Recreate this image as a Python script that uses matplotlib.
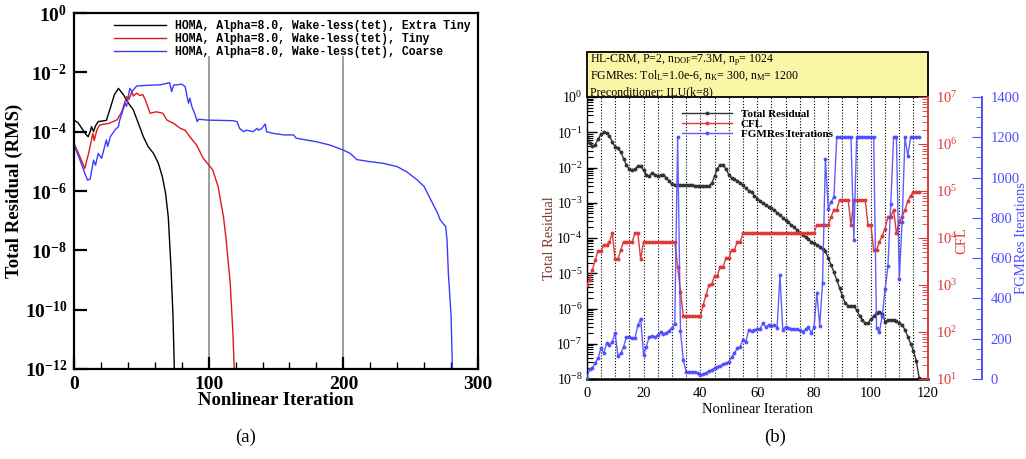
import numpy as np
import matplotlib
matplotlib.use('Agg')
import matplotlib.pyplot as plt
from matplotlib.patches import Rectangle
from matplotlib.ticker import MultipleLocator, NullLocator, LogLocator, NullFormatter

plt.rcParams['mathtext.fontset'] = 'custom'
plt.rcParams['mathtext.rm'] = 'Liberation Serif'
plt.rcParams['mathtext.it'] = 'Liberation Serif:italic'
plt.rcParams['mathtext.bf'] = 'Liberation Serif:bold'
plt.rcParams['font.family'] = ['Liberation Serif', 'DejaVu Serif']

# ---------------- panel (a) data ----------------
a_labels = ['HOMA, Alpha=8.0, Wake-less(tet), Extra Tiny',
            'HOMA, Alpha=8.0, Wake-less(tet), Tiny',
            'HOMA, Alpha=8.0, Wake-less(tet), Coarse']
a_xtiny_it = [0, 3, 6, 9, 10.5, 12, 13, 14.5, 16, 18, 21, 24, 27, 30, 33, 36.6, 40.4, 44, 47.8, 51.5,
              55, 59, 62.6, 65.6, 68, 70, 72, 73.5, 74.5]
a_xtiny_log = [-3.61, -3.7, -3.9, -4.1, -4.17, -4.0, -3.83, -4.0, -3.8, -3.66, -3.64, -3.62, -3.2, -2.75,
               -2.54, -2.75, -3.04, -3.26, -3.72, -4.17, -4.5, -4.73, -5.06, -5.52, -6.08, -6.87, -8.55,
               -10.2, -12.0]
a_tiny_it = [0, 4, 8, 11, 14, 15, 17, 19, 22, 26, 29, 32, 35.5, 39, 41, 43, 44, 46.5, 49, 51, 53, 56.5,
             61, 66, 69, 74, 79, 82.5, 86, 91, 96, 100, 103, 107, 111, 113, 116, 118, 119]
a_tiny_log = [-4.39, -4.8, -5.24, -4.7, -4.06, -4.3, -3.94, -3.78, -3.75, -3.72, -3.66, -3.6, -3.33,
              -2.82, -2.9, -2.65, -2.8, -2.7, -2.78, -2.75, -2.93, -3.38, -3.33, -3.38, -3.61, -3.72,
              -3.89, -3.95, -4.17, -4.45, -4.9, -5.12, -5.29, -5.85, -6.87, -7.65, -9.1, -10.8, -12.0]
a_coarse_it = [0, 4, 8, 10, 12, 14.5, 16, 18, 20.5, 24, 25, 27, 30.5, 33, 34, 38, 39, 41.5, 43, 46.5,
               54, 64, 71, 72.5, 74, 80, 82.5, 85, 86, 87.5, 90, 91.5, 92.5, 99, 118, 121, 123, 126,
               128, 133, 136, 137, 139.5, 142, 143, 148, 156, 163, 165, 180, 190, 200, 205, 210, 218,
               230, 240, 247, 255, 260, 265, 270, 272, 276, 277, 278, 280, 281]
a_coarse_log = [-4.45, -4.9, -5.4, -5.63, -5.6, -4.96, -5.13, -4.73, -4.9, -4.28, -4.5, -4.17, -3.94,
                -3.83, -3.6, -3.04, -3.15, -2.54, -2.65, -2.46, -2.44, -2.42, -2.35, -2.65, -2.43, -2.4,
                -2.48, -3.04, -2.87, -3.15, -3.44, -3.66, -3.58, -3.61, -3.63, -3.66, -3.89, -4.0,
                -3.95, -4.0, -3.89, -3.95, -3.89, -3.74, -4.0, -4.06, -4.11, -4.11, -4.22, -4.34,
                -4.45, -4.62, -4.73, -4.94, -5.0, -5.07, -5.18, -5.35, -5.63, -5.85, -6.3, -6.75,
                -6.98, -7.2, -7.65, -8.78, -10.2, -12.0]
a_colors = ['#000000', '#e01818', '#3b3bff']
a_xticks = [0, 100, 200, 300]
a_grid_x = [100, 200]
a_yexp = [-12, -10, -8, -6, -4, -2, 0]

# ---------------- panel (b) data ----------------
b_iter = list(range(118))
b_res_log = [-1.13, -1.3, -1.4, -1.35, -1.2, -1.06, -0.99, -1.03, -1.1, -1.27,
             -1.42, -1.46, -1.56, -1.75, -1.93, -2.05, -2.06, -2.05, -1.96, -1.97,
             -2.08, -2.2, -2.25, -2.15, -2.2, -2.25, -2.22, -2.2, -2.3, -2.38,
             -2.47, -2.49, -2.49, -2.5, -2.5, -2.5, -2.51, -2.5, -2.52, -2.52,
             -2.53, -2.53, -2.53, -2.52, -2.45, -2.25, -2.04, -1.92, -1.93, -2.05,
             -2.2, -2.3, -2.34, -2.38, -2.44, -2.5, -2.58, -2.66, -2.7, -2.8,
             -2.88, -2.95, -3.02, -3.07, -3.11, -3.16, -3.21, -3.28, -3.35, -3.42,
             -3.49, -3.56, -3.63, -3.7, -3.77, -3.85, -3.92, -3.98, -4.04, -4.1,
             -4.15, -4.2, -4.25, -4.32, -4.38, -4.57, -4.77, -4.97, -5.19, -5.42,
             -5.65, -5.85, -5.92, -5.92, -5.93, -6.04, -6.2, -6.33, -6.42, -6.41,
             -6.3, -6.22, -6.12, -6.09, -6.15, -6.37, -6.33, -6.32, -6.32, -6.35,
             -6.42, -6.47, -6.6, -6.8, -7.0, -7.2, -7.5, -7.97]
b_cfl_log = [3.0, 3.11, 3.32, 3.53, 3.73, 3.73, 3.85, 3.85, 3.92, 4.1,
             3.55, 3.55, 3.75, 3.92, 3.92, 3.92, 3.92, 4.1, 4.1, 3.55,
             3.92, 3.92, 3.92, 3.92, 3.92, 3.92, 3.92, 3.92, 3.92, 3.92,
             3.92, 3.92, 3.39, 2.86, 2.33, 2.33, 2.33, 2.33, 2.33, 2.33,
             2.33, 2.58, 2.79, 3.0, 3.02, 3.2, 3.2, 3.39, 3.39, 3.57,
             3.57, 3.75, 3.75, 3.92, 3.92, 4.1, 4.1, 4.1, 4.1, 4.1,
             4.1, 4.1, 4.1, 4.1, 4.1, 4.1, 4.1, 4.1, 4.1, 4.1,
             4.1, 4.1, 4.1, 4.1, 4.1, 4.1, 4.1, 4.1, 4.1, 4.1,
             4.1, 4.28, 4.28, 4.28, 4.28, 4.28, 4.45, 4.6, 4.6, 4.81,
             4.81, 4.81, 4.81, 4.28, 4.81, 4.81, 4.81, 4.81, 4.81, 4.28,
             4.28, 3.74, 3.74, 3.92, 4.05, 4.2, 4.45, 4.45, 4.6, 4.1,
             4.35, 4.45, 4.6, 4.78, 4.9, 4.98, 4.98, 4.98]
b_fgmres = [3, 48, 55, 79, 103, 153, 128, 177, 169, 185,
            230, 112, 128, 161, 210, 210, 202, 202, 267, 300,
            120, 161, 210, 212, 208, 218, 232, 225, 228, 240,
            255, 274, 1200, 236, 93, 36, 35, 34, 33, 28,
            20, 25, 30, 40, 44, 56, 62, 66, 72, 77,
            85, 110, 128, 153, 161, 194, 185, 243, 240, 243,
            246, 250, 276, 259, 267, 262, 267, 255, 514, 243,
            259, 255, 250, 250, 246, 243, 235, 246, 259, 230,
            257, 429, 265, 478, 1092, 846, 879, 903, 1200, 1200,
            1200, 1200, 1200, 1200, 690, 1200, 1200, 1200, 1200, 1200,
            1200, 1200, 255, 232, 314, 445, 560, 870, 1200, 1200,
            494, 780, 1200, 1108, 1200, 1200, 1200, 1200]
b_labels = ['Total Residual', 'CFL', 'FGMRes Iterations']
b_colors = ['#333333', '#dd3a3a', '#4d4dff']
b_xticks = [0, 20, 40, 60, 80, 100, 120]
b_res_exp = [-8, -7, -6, -5, -4, -3, -2, -1, 0]
b_cfl_exp = [1, 2, 3, 4, 5, 6, 7]
b_fg_ticks = [0, 200, 400, 600, 800, 1000, 1200, 1400]
b_box_lines = [r'HL-CRM, P=2, n$_{\mathrm{DOF}}$=7.3M, n$_{\mathrm{p}}$= 1024',
               r'FGMRes: Tol$_{\mathrm{L}}$=1.0e-6, n$_{\mathrm{K}}$= 300, n$_{\mathrm{M}}$= 1200',
               r'Preconditioner: ILU(k=8)']

W, H = 1026, 459
fig = plt.figure(figsize=(W / 100, H / 100), dpi=100)


def frac(x0, y0, x1, y1):
    return [x0 / W, 1 - y1 / H, (x1 - x0) / W, (y1 - y0) / H]


# ================= panel (a) =================
axA = fig.add_axes(frac(74, 13, 478, 369))
axA.set_xlim(0, 300)
axA.set_yscale('log')
axA.set_ylim(1e-12, 1)
for xg in a_grid_x:
    axA.axvline(xg, ymax=(369 - 57) / 356, color='#8c8c8c', lw=1.2, zorder=0)
series_a = [(a_xtiny_it, a_xtiny_log), (a_tiny_it, a_tiny_log), (a_coarse_it, a_coarse_log)]
for (xs, ls), c, lab in zip(series_a, a_colors, a_labels):
    axA.plot(xs, 10.0 ** np.array(ls), color=c, lw=1.0, label=lab)
axA.set_xticks(a_xticks)
axA.xaxis.set_minor_locator(MultipleLocator(20))
axA.set_yticks([10.0 ** e for e in a_yexp],
               labels=[r'$\mathbf{10^{%d}}$' % e for e in a_yexp])
axA.yaxis.set_minor_locator(NullLocator())
axA.tick_params(which='both', direction='in', top=False, right=False)
axA.tick_params(which='major', length=9, width=1.6, labelsize=14, pad=5)
axA.tick_params(axis='x', which='minor', length=5, width=1.0)
for lab in axA.get_xticklabels():
    lab.set_fontweight('bold')
for sp in axA.spines.values():
    sp.set_linewidth(1.6)
axA.set_xlabel('Nonlinear Iteration', fontsize=13.5, fontweight='bold')
axA.xaxis.set_label_coords(0.5, -0.065)
axA.set_ylabel('Total Residual (RMS)', fontsize=13.5, fontweight='bold')
axA.yaxis.set_label_coords(-0.125, 0.5)
legA = axA.legend(loc='upper left', bbox_to_anchor=(0.099, 0.979), frameon=False,
                  prop={'family': 'Liberation Mono', 'weight': 'bold', 'size': 8.3},
                  handlelength=4.5, handletextpad=0.78, labelspacing=0.08,
                  borderaxespad=0, borderpad=0)

# ================= panel (b) =================
axB = fig.add_axes(frac(586.7, 97, 927.7, 379))
axB.set_xlim(0, 120)
axB.set_yscale('log')
axB.set_ylim(1e-8, 1)
axB.set_xticks(b_xticks)
axB.xaxis.set_minor_locator(MultipleLocator(5))
axB.grid(True, axis='x', which='both', color='black', lw=0.8, ls=(0, (1, 1.6)))
axB.set_yticks([10.0 ** e for e in b_res_exp],
               labels=[r'$10^{%d}$' % e for e in b_res_exp])
axB.yaxis.set_minor_locator(LogLocator(base=10, subs=np.arange(2, 10)))
axB.yaxis.set_minor_formatter(NullFormatter())
axB.tick_params(which='both', direction='in', top=False, right=False, labelsize=10)
axB.tick_params(axis='y', which='major', length=7, width=1.0, pad=3)
axB.tick_params(axis='y', which='minor', length=4, width=0.8)
axB.tick_params(axis='x', which='major', length=0, pad=6, labelsize=10.5)
axB.tick_params(axis='x', which='minor', length=0)
axB.spines['right'].set_visible(False)
axB.spines['bottom'].set_linewidth(1.8)
axB.spines['left'].set_linewidth(1.0)
axB.spines['top'].set_visible(False)
axB.set_xlabel('Nonlinear Iteration', fontsize=10.5)
axB.xaxis.set_label_coords(0.5, -0.085)
axB.set_ylabel('Total Residual', fontsize=10.5, color='#7e3a2e')
axB.yaxis.set_label_coords(-0.09, 0.5)

axR = axB.twinx()
axR.set_yscale('log')
axR.set_ylim(10, 1e7)
axR.set_yticks([10.0 ** e for e in b_cfl_exp],
               labels=[r'$10^{%d}$' % e for e in b_cfl_exp])
axR.yaxis.set_minor_locator(LogLocator(base=10, subs=np.arange(2, 10)))
axR.yaxis.set_minor_formatter(NullFormatter())
axR.tick_params(axis='y', which='both', direction='in', colors=b_colors[1], labelsize=10.5)
axR.tick_params(axis='y', which='major', length=7, pad=6)
axR.tick_params(axis='y', which='minor', length=4)
for k in ['left', 'top', 'bottom']:
    axR.spines[k].set_visible(False)
axR.spines['right'].set_color(b_colors[1])
axR.spines['right'].set_linewidth(1.4)
axR.set_ylabel('CFL', fontsize=10.5, color=b_colors[1])
axR.yaxis.set_label_coords(1.082, 0.49)

axF = axB.twinx()
axF.set_ylim(0, 1400)
axF.set_yticks(b_fg_ticks)
axF.yaxis.set_minor_locator(MultipleLocator(50))
axF.spines['right'].set_position(('axes', 1.159))
for k in ['left', 'top', 'bottom']:
    axF.spines[k].set_visible(False)
axF.spines['right'].set_color(b_colors[2])
axF.spines['right'].set_linewidth(1.4)
axF.tick_params(axis='y', which='both', direction='in', colors=b_colors[2], labelsize=10.5)
axF.tick_params(axis='y', which='major', length=7, pad=6)
axF.tick_params(axis='y', which='minor', length=4)
axF.set_ylabel('FGMRes Iterations', fontsize=10.5, color=b_colors[2])
axF.yaxis.set_label_coords(1.255, 0.5)

h1, = axB.plot(b_iter, 10.0 ** np.array(b_res_log), color=b_colors[0], lw=1.0,
               marker='o', ms=1.8, label=b_labels[0])
h2, = axR.plot(b_iter, 10.0 ** np.array(b_cfl_log), color=b_colors[1], lw=1.0,
               marker='o', ms=1.8, label=b_labels[1])
h3, = axF.plot(b_iter, b_fgmres, color=b_colors[2], lw=1.0, alpha=0.9,
               marker='o', ms=1.8, label=b_labels[2])
axF.legend([h1, h2, h3], b_labels, loc='upper left', bbox_to_anchor=(0.2795, 0.958),
           frameon=False, prop={'family': 'Liberation Serif', 'weight': 'bold', 'size': 8},
           handlelength=4.5, handletextpad=0.8, labelspacing=0.05,
           borderaxespad=0, borderpad=0, numpoints=1)

# yellow info box above panel (b)
box_h = (97 - 52) / (379 - 97)
axB.add_patch(Rectangle((0, 1), 1, box_h, transform=axB.transAxes, clip_on=False,
                        facecolor='#fbf5a6', edgecolor='black', lw=1.3, zorder=5))
for i, txt in enumerate(b_box_lines):
    yy = (379 - (60 + 16 * i)) / (379 - 97)
    axB.text(0.01, yy, txt, transform=axB.transAxes, fontsize=8.6, va='center',
             ha='left', zorder=6)

# captions
fig.text(246 / W, 1 - 437 / H, '(a)', ha='center', va='center', fontsize=13.5)
fig.text(775 / W, 1 - 437 / H, '(b)', ha='center', va='center', fontsize=13.5)

fig.savefig('out.png', dpi=100)
